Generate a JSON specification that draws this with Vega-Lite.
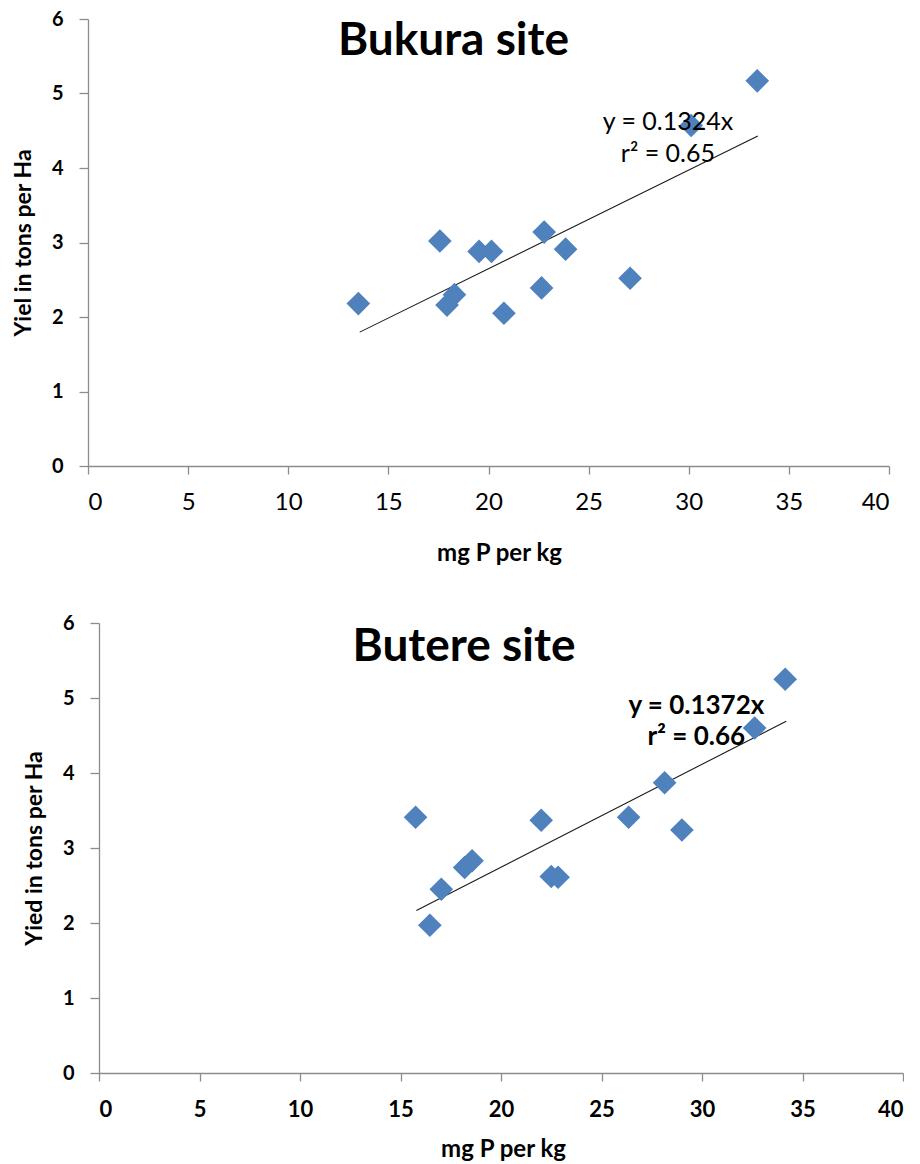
{
  "$schema": "https://vega.github.io/schema/vega-lite/v6.json",
  "padding": {"left": 12, "top": 9, "right": 0, "bottom": 0},
  "spacing": 48,
  "config": {
    "view": {"stroke": null},
    "font": "Lato",
    "axis": {"grid": false, "domainColor": "#8c8c8c", "tickColor": "#8c8c8c", "domainWidth": 1.3, "tickWidth": 1.3, "labelColor": "#000000", "titleColor": "#000000", "labelFont": "Lato", "titleFont": "Lato"}
  },
  "datasets": {
    "bukura": [
      {"p": 13.5, "y": 2.18}, {"p": 17.57, "y": 3.02}, {"p": 17.93, "y": 2.16}, {"p": 18.3, "y": 2.3},
      {"p": 19.53, "y": 2.88}, {"p": 20.15, "y": 2.88}, {"p": 20.77, "y": 2.05}, {"p": 22.65, "y": 2.39},
      {"p": 22.78, "y": 3.14}, {"p": 23.85, "y": 2.91}, {"p": 27.07, "y": 2.52}, {"p": 30.12, "y": 4.57},
      {"p": 33.42, "y": 5.17}
    ],
    "bukura_trend": [{"p": 13.57, "y": 1.797}, {"p": 33.45, "y": 4.429}],
    "bukura_text": [
      {"p": 28.96, "y": 4.62, "label": "y = 0.1324x"},
      {"p": 28.96, "y": 4.19, "label": "r² = 0.65"}
    ],
    "bukura_title": [{"p": 18.25, "y": 5.71, "label": "Bukura site"}],
    "butere": [
      {"p": 15.75, "y": 3.41}, {"p": 16.46, "y": 1.97}, {"p": 17.03, "y": 2.45}, {"p": 18.19, "y": 2.74},
      {"p": 18.56, "y": 2.83}, {"p": 22.0, "y": 3.37}, {"p": 22.5, "y": 2.62}, {"p": 22.84, "y": 2.61},
      {"p": 26.35, "y": 3.41}, {"p": 28.14, "y": 3.87}, {"p": 29.0, "y": 3.24}, {"p": 32.62, "y": 4.6},
      {"p": 34.14, "y": 5.25}
    ],
    "butere_trend": [{"p": 15.79, "y": 2.166}, {"p": 34.19, "y": 4.691}],
    "butere_text": [
      {"p": 29.72, "y": 4.9, "label": "y = 0.1372x"},
      {"p": 29.72, "y": 4.48, "label": "r² = 0.66"}
    ],
    "butere_title": [{"p": 18.16, "y": 5.68, "label": "Butere site"}]
  },
  "vconcat": [
    {
      "width": 801,
      "height": 447,
      "encoding": {
        "x": {"field": "p", "type": "quantitative", "scale": {"domain": [0, 40], "nice": false},
          "axis": {"title": "mg P per kg", "values": [0, 5, 10, 15, 20, 25, 30, 35, 40], "tickSize": 8, "labelFontSize": 24, "labelFontWeight": "normal", "labelPadding": 16, "titleFontSize": 24, "titleFontWeight": "bold", "titlePadding": 27, "titleX": 411}},
        "y": {"field": "y", "type": "quantitative", "scale": {"domain": [0, 6], "nice": false},
          "axis": {"title": "Yiel in tons per Ha", "values": [0, 1, 2, 3, 4, 5, 6], "tickSize": 9, "labelFontSize": 20, "labelFontWeight": "bold", "labelPadding": 16, "titleFontSize": 23, "titleFontWeight": "bold", "titlePadding": 16}}
      },
      "layer": [
        {"data": {"name": "bukura_trend"}, "mark": {"type": "line", "color": "#1a1a1a", "strokeWidth": 1.1}},
        {"data": {"name": "bukura"}, "mark": {"type": "point", "shape": "diamond", "filled": true, "size": 560, "color": "#4F81BD", "opacity": 1}},
        {"data": {"name": "bukura_text"}, "mark": {"type": "text", "fontSize": 25, "font": "Lato", "color": "#000000", "baseline": "middle"},
          "encoding": {"text": {"field": "label", "type": "nominal"}}},
        {"data": {"name": "bukura_title"}, "mark": {"type": "text", "fontSize": 46, "fontWeight": "bold", "font": "Lato", "color": "#000000", "baseline": "middle"},
          "encoding": {"text": {"field": "label", "type": "nominal"}}}
      ]
    },
    {
      "width": 815,
      "height": 450,
      "encoding": {
        "x": {"field": "p", "type": "quantitative", "scale": {"domain": [0, 40], "nice": false, "range": [11, 815]},
          "axis": {"title": "mg P per kg", "values": [0, 5, 10, 15, 20, 25, 30, 35, 40], "tickSize": 8, "labelFontSize": 22, "labelFontWeight": "bold", "labelPadding": 18, "titleFontSize": 24, "titleFontWeight": "bold", "titlePadding": 17, "titleX": 415}},
        "y": {"field": "y", "type": "quantitative", "scale": {"domain": [0, 6], "nice": false},
          "axis": {"title": "Yied in tons per Ha", "offset": -11, "values": [0, 1, 2, 3, 4, 5, 6], "tickSize": 9, "labelFontSize": 20, "labelFontWeight": "bold", "labelPadding": 16, "titleFontSize": 23, "titleFontWeight": "bold", "titlePadding": 16}}
      },
      "layer": [
        {"data": {"name": "butere_trend"}, "mark": {"type": "line", "color": "#1a1a1a", "strokeWidth": 1.1}},
        {"data": {"name": "butere"}, "mark": {"type": "point", "shape": "diamond", "filled": true, "size": 560, "color": "#4F81BD", "opacity": 1}},
        {"data": {"name": "butere_text"}, "mark": {"type": "text", "fontSize": 26, "fontWeight": "bold", "font": "Lato", "color": "#000000", "baseline": "middle"},
          "encoding": {"text": {"field": "label", "type": "nominal"}}},
        {"data": {"name": "butere_title"}, "mark": {"type": "text", "fontSize": 46, "fontWeight": "bold", "font": "Lato", "color": "#000000", "baseline": "middle"},
          "encoding": {"text": {"field": "label", "type": "nominal"}}}
      ]
    }
  ]
}
